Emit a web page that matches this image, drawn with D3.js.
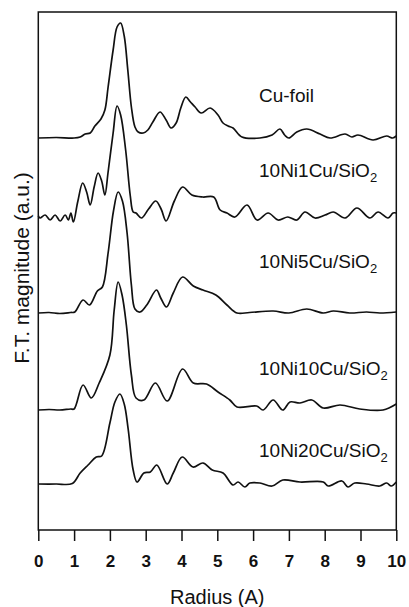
<!DOCTYPE html>
<html>
<head>
<meta charset="utf-8">
<script src="https://cdnjs.cloudflare.com/ajax/libs/d3/7.8.5/d3.min.js"></script>
<style>
  body { margin: 0; background: #fff; }
  svg { display: block; font-family: "Liberation Sans", Arial, sans-serif; }
  .curve { fill: none; stroke: #111; stroke-width: 1.7; stroke-linejoin: round; }
  .frame { fill: none; stroke: #111; stroke-width: 1.5; }
  .tick line { stroke: #111; stroke-width: 1.5; }
  .tick text { font-size: 17px; font-weight: bold; fill: #111; }
</style>
</head>
<body>
<svg id="chart" width="409" height="607"></svg>
<script>
// FT magnitude vs radius, one array of [radius, magnitude] per sample (a.u., above its own baseline)
const cuFoil = [[0,0],[0.5,0.005],[1.0,0],[1.17,0.01],[1.31,0.04],[1.45,0.05],[1.58,0.12],[1.75,0.19],[1.86,0.28],
  [1.95,0.51],[2.09,0.88],[2.2,1.11],[2.3,1.15],[2.4,1.02],[2.5,0.68],[2.6,0.31],[2.7,0.11],[2.79,0.06],[2.93,0.05],
  [3.06,0.08],[3.2,0.16],[3.4,0.26],[3.57,0.18],[3.71,0.10],[3.85,0.15],[3.98,0.30],[4.12,0.41],[4.25,0.36],[4.38,0.31],
  [4.55,0.25],[4.8,0.30],[5.02,0.23],[5.16,0.15],[5.3,0.12],[5.44,0.10],[5.69,0.01],[6.19,0],[6.53,0.03],[6.75,0.09],
  [6.88,0.03],[7.0,0],[7.22,0.06],[7.5,0.09],[7.87,0.04],[8.15,0],[8.57,0.04],[8.76,0.01],[8.93,0.03],[9.35,-0.02],
  [9.73,0.02],[9.9,0],[10,0.02]];
const ni1Cu = [[0,0.01],[0.05,-0.01],[0.19,0.02],[0.33,-0.03],[0.47,0.02],[0.61,-0.04],[0.75,0.02],[0.84,-0.03],
  [0.91,0.04],[0.98,-0.05],[1.1,0.15],[1.24,0.34],[1.35,0.25],[1.45,0.12],[1.56,0.30],[1.67,0.44],[1.77,0.36],
  [1.86,0.22],[1.95,0.45],[2.09,0.84],[2.2,1.11],[2.3,1.02],[2.44,0.67],[2.57,0.21],[2.65,0.05],[2.73,0.04],
  [2.88,-0.01],[3.08,0.08],[3.28,0.16],[3.43,0.08],[3.57,-0.04],[3.8,0.16],[4.03,0.30],[4.29,0.22],[4.6,0.20],
  [4.9,0.20],[5.08,0.07],[5.27,0.04],[5.49,0],[5.83,0.12],[6.11,-0.03],[6.42,0.04],[6.7,-0.03],[6.97,0],[7.22,-0.03],
  [7.45,0.05],[7.73,-0.01],[8.01,0.02],[8.24,0.05],[8.57,-0.01],[8.9,0.09],[9.26,-0.01],[9.49,0.05],[9.77,-0.01],
  [9.91,0.04],[10,0.04]];
const ni5Cu = [[0,0],[0.3,0.005],[0.6,-0.005],[0.9,0.005],[1.02,0.01],[1.25,0.13],[1.43,0.08],[1.65,0.22],[1.79,0.26],
  [1.95,0.60],[2.1,1.02],[2.23,1.21],[2.35,1.12],[2.48,0.80],[2.6,0.28],[2.7,0.04],[2.84,0.01],[3.03,0.08],[3.3,0.23],
  [3.42,0.15],[3.58,0.06],[3.77,0.20],[4.03,0.36],[4.33,0.27],[4.6,0.23],[4.96,0.18],[5.27,0.08],[5.55,0],[5.9,0.005],
  [6.56,0.02],[7.0,0],[7.5,0.04],[7.96,0],[8.24,0.02],[8.7,0],[9.17,0.01],[9.54,0],[10,0.01]];
const ni10Cu = [[0,0],[0.3,0.005],[0.6,0],[0.9,0.01],[1.0,0.01],[1.25,0.25],[1.48,0.12],[1.7,0.27],[2.0,0.55],
  [2.12,1.0],[2.23,1.28],[2.34,1.15],[2.46,0.85],[2.6,0.35],[2.73,0.12],[2.95,0.10],[3.27,0.27],[3.6,0.09],[4.03,0.41],
  [4.33,0.27],[4.7,0.26],[5.02,0.18],[5.35,0.10],[5.55,0.03],[6.1,0.04],[6.28,0],[6.56,0.10],[6.83,0],[7.03,0.08],
  [7.31,0.07],[7.64,0.10],[7.96,0.02],[8.43,0.05],[8.98,0.01],[9.63,0],[10,0.06]];
const ni20Cu = [[0,0],[0.5,0],[0.95,0.005],[1.17,0.11],[1.39,0.19],[1.62,0.27],[1.77,0.28],[2.0,0.61],[2.14,0.82],
  [2.28,0.90],[2.4,0.80],[2.51,0.55],[2.65,0.14],[2.76,0.02],[2.95,0.11],[3.13,0.12],[3.31,0.19],[3.6,0],[3.77,0.11],
  [4.02,0.27],[4.32,0.17],[4.6,0.21],[4.86,0.14],[5.16,0.11],[5.44,-0.01],[5.58,0.02],[5.77,-0.03],[5.91,0.01],
  [6.19,0.01],[6.53,-0.02],[6.83,0.04],[7.31,0.02],[7.96,0.02],[8.1,-0.02],[8.48,0.03],[8.65,-0.03],[8.84,0.01],
  [9.17,0],[9.54,-0.02],[9.73,0.01],[9.86,-0.02],[10,0.02]];

// stacking offset of each sample (a.u.) and its label
const names = ["Cu-foil", "10Ni1Cu/SiO2", "10Ni5Cu/SiO2", "10Ni10Cu/SiO2", "10Ni20Cu/SiO2"];
const offsets = [3.92, 3.13, 2.17, 1.20, 0.46];
const labelLevels = [4.28, 3.53, 2.62, 1.55, 0.73]; // a.u. height of label baselines
const series = [cuFoil, ni1Cu, ni5Cu, ni10Cu, ni20Cu];
const xTicks = d3.range(0, 11);

const svg = d3.select('#chart');
const margin = { left: 38.3, right: 12.7, top: 12, bottom: 77 };
const W = 409, H = 607;

const x = d3.scaleLinear().domain([0, 10]).range([margin.left, W - margin.right]);
const y = d3.scaleLinear().domain([0, 5.18]).range([H - margin.bottom, margin.top]);

// frame
svg.append('rect')
  .attr('class', 'frame')
  .attr('x', x(0)).attr('y', y(5.18))
  .attr('width', x(10) - x(0)).attr('height', y(0) - y(5.18));

// bottom axis, ticks pointing down
const axis = svg.append('g')
  .attr('transform', `translate(0,${y(0)})`)
  .call(d3.axisBottom(x).tickValues(xTicks).tickFormat(d3.format('d'))
    .tickSize(11).tickSizeOuter(0).tickPadding(14));
axis.select('.domain').remove();

// curves
const line = d3.line()
  .x(d => x(d[0]))
  .curve(d3.curveCatmullRom.alpha(0.5));

series.forEach((s, i) => {
  svg.append('path')
    .attr('class', 'curve')
    .attr('d', line.y(d => y(d[1] + offsets[i]))(s));
});

// sample labels, with subscript for the SiO2
names.forEach((n, i) => {
  const t = svg.append('text')
    .attr('x', 259).attr('y', y(labelLevels[i]))
    .attr('font-size', 19).attr('fill', '#111');
  if (n.endsWith('2')) {
    t.append('tspan').text(n.slice(0, -1));
    t.append('tspan').text('2').attr('font-size', 13).attr('dy', 5);
  } else {
    t.text(n);
  }
});

// axis titles
svg.append('text')
  .attr('x', (x(0) + x(10)) / 2).attr('y', 604)
  .attr('text-anchor', 'middle').attr('font-size', 20).attr('fill', '#111')
  .text('Radius (A)');

svg.append('text')
  .attr('transform', 'translate(29,268) rotate(-90)')
  .attr('text-anchor', 'middle').attr('font-size', 21).attr('fill', '#111')
  .text('F.T. magnitude (a.u.)');
</script>
</body>
</html>
